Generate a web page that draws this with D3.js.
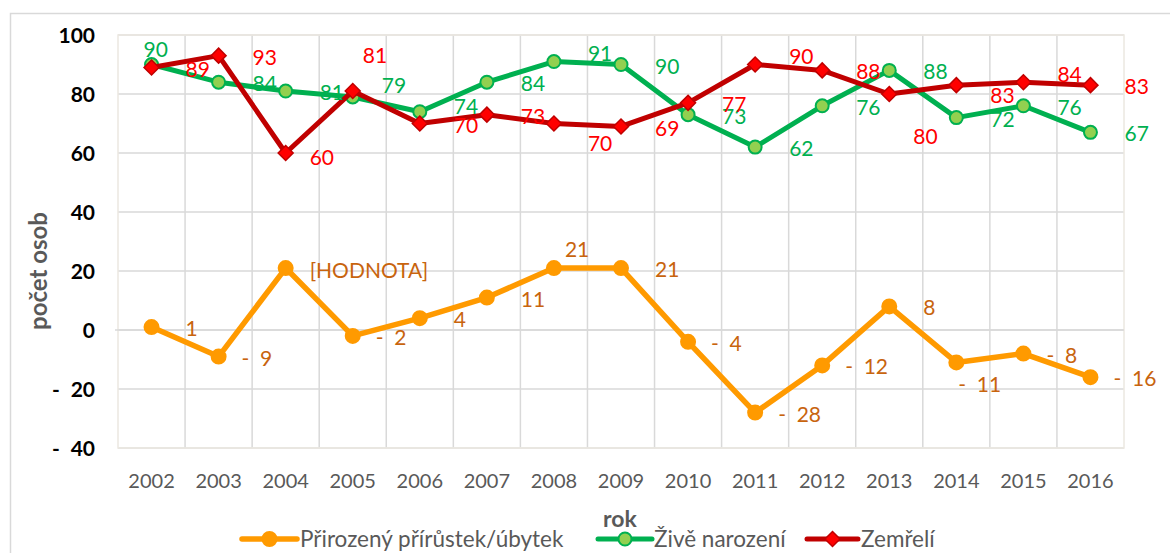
<!DOCTYPE html>
<html>
<head>
<meta charset="utf-8">
<script src="https://cdn.jsdelivr.net/npm/d3@7"></script>
<style>
  html, body { margin: 0; padding: 0; background: #ffffff; }
  svg { display: block; }
  text { font-family: Lato, "Liberation Sans", sans-serif; }
</style>
</head>
<body>
<svg id="chart" width="1170" height="553"></svg>
<script>
// ---------- data ----------
const years   = ["2002","2003","2004","2005","2006","2007","2008","2009","2010","2011","2012","2013","2014","2015","2016"];
const natural = [1, -9, 21, -2, 4, 11, 21, 21, -4, -28, -12, 8, -11, -8, -16];
const births  = [90, 84, 81, 79, 74, 84, 91, 90, 73, 62, 76, 88, 72, 76, 67];
const deaths  = [89, 93, 60, 81, 70, 73, 70, 69, 77, 90, 88, 80, 83, 84, 83];
const yTicks  = [-40, -20, 0, 20, 40, 60, 80, 100];
const seriesNames = ["Přirozený přírůstek/úbytek", "Živě narození", "Zemřelí"];
const xTitle = "rok";
const yTitle = "počet osob";
// label text shown instead of the number (as in the source chart)
const labelTextOverride = { natural: { "2004": "[HODNOTA]" } };

// ---------- label nudges (styling, px) ----------
const nudges = {
  natural: { "2004": [-10, 1], "2008": [-23, -20], "2014": [-21, 20] },
  births:  { "2002": [-42, -17], "2005": [-5, -13], "2006": [0, -7], "2008": [0, -10] },
  deaths:  { "2004": [-10, 3], "2005": [-24, -37], "2008": [0, 18], "2011": [0, -10],
             "2013": [-10, 41], "2014": [0, 9], "2015": [0, -9] }
};

const svg = d3.select("#chart");

const plot = { left: 118, right: 1124, top: 35, bottom: 448 };

const x = d3.scaleBand().domain(years).range([plot.left, plot.right]).paddingInner(0).paddingOuter(0);
const cx = d => x(d) + x.bandwidth() / 2;
const y = d3.scaleLinear().domain([-40, 100]).range([plot.bottom, plot.top]);

// outer chart border
svg.append("path")
  .attr("d", `M10.5,600 L10.5,13.5 L1180,13.5`)
  .attr("fill", "none").attr("stroke", "#d9d9d9").attr("stroke-width", 1.5);

// gridlines
const grid = svg.append("g");
grid.selectAll("line.h").data(yTicks).join("line")
  .attr("x1", plot.left).attr("x2", plot.right)
  .attr("y1", d => y(d)).attr("y2", d => y(d))
  .attr("stroke", "#d9d9d9").attr("stroke-width", 1.5);
grid.selectAll("line.v").data(years.slice(1)).join("line")
  .attr("x1", d => x(d)).attr("x2", d => x(d))
  .attr("y1", plot.top).attr("y2", plot.bottom)
  .attr("stroke", "#d9d9d9").attr("stroke-width", 1.5);

// plot area border
svg.append("rect")
  .attr("x", plot.left).attr("y", plot.top)
  .attr("width", plot.right - plot.left).attr("height", plot.bottom - plot.top)
  .attr("fill", "none").attr("stroke", "#ebe8e1").attr("stroke-width", 1.5);

// zero axis line
svg.append("line")
  .attr("x1", plot.left - 3).attr("x2", plot.right)
  .attr("y1", y(0)).attr("y2", y(0))
  .attr("stroke", "#d9d9d9").attr("stroke-width", 1.5);

// y axis labels (accounting format)
const yLab = svg.append("g").attr("font-weight", "bold").attr("font-size", 21).attr("fill", "#000");
yTicks.forEach(t => {
  yLab.append("text").attr("x", 95).attr("y", y(t)).attr("dy", "0.36em")
    .attr("text-anchor", "end").text(Math.abs(t));
  if (t < 0) {
    yLab.append("text").attr("x", 52).attr("y", y(t)).attr("dy", "0.36em")
      .attr("text-anchor", "start").text("-");
  }
});

// x axis labels
svg.append("g").selectAll("text").data(years).join("text")
  .attr("x", d => cx(d)).attr("y", 481).attr("dy", "0.36em")
  .attr("text-anchor", "middle").attr("font-size", 20).attr("fill", "#595959")
  .text(d => d);

// axis titles
svg.append("text").attr("x", 620).attr("y", 519).attr("dy", "0.36em")
  .attr("text-anchor", "middle").attr("font-size", 23).attr("font-weight", "bold")
  .attr("fill", "#595959").text(xTitle);
svg.append("text").attr("transform", "translate(38,271) rotate(-90)")
  .attr("dy", "0.36em").attr("text-anchor", "middle").attr("font-size", 24)
  .attr("font-weight", "bold").attr("fill", "#595959").text(yTitle);

// series definitions
const series = [
  { key: "natural", values: natural, line: "#ff9a00", width: 5.5, marker: "circle", fill: "#ff9a00", stroke: "#ff9a00", r: 7, label: "#c8640e" },
  { key: "births",  values: births,  line: "#00b050", width: 5,   marker: "circle", fill: "#92d050", stroke: "#00b050", r: 6.5, label: "#00b050" },
  { key: "deaths",  values: deaths,  line: "#c00000", width: 5,   marker: "diamond", fill: "#ff0000", stroke: "#c00000", r: 7.5, label: "#ff0000" }
];

const lineGen = d3.line().x(d => cx(d.year)).y(d => y(d.v));

function drawMarker(g, s, px, py) {
  if (s.marker === "circle") {
    g.append("circle").attr("cx", px).attr("cy", py).attr("r", s.r)
      .attr("fill", s.fill).attr("stroke", s.stroke).attr("stroke-width", 2);
  } else {
    const r = s.r;
    g.append("path").attr("d", `M${px},${py - r} L${px + r},${py} L${px},${py + r} L${px - r},${py} Z`)
      .attr("fill", s.fill).attr("stroke", s.stroke).attr("stroke-width", 1.5);
  }
}

series.forEach(s => {
  const pts = years.map((yr, i) => ({ year: yr, v: s.values[i] }));
  const g = svg.append("g");
  g.append("path").datum(pts).attr("d", lineGen)
    .attr("fill", "none").attr("stroke", s.line).attr("stroke-width", s.width)
    .attr("stroke-linejoin", "round");
  pts.forEach(p => drawMarker(g, s, cx(p.year), y(p.v)));
});

// data labels
series.forEach(s => {
  const g = svg.append("g").attr("font-size", 21).attr("fill", s.label);
  years.forEach((yr, i) => {
    const v = s.values[i];
    const n = (nudges[s.key] && nudges[s.key][yr]) || [0, 0];
    const px = cx(yr), py = y(v) + 1.5 + n[1];
    const override = labelTextOverride[s.key] && labelTextOverride[s.key][yr];
    if (override) {
      g.append("text").attr("x", px + 34 + n[0]).attr("y", py).attr("dy", "0.36em").text(override);
    } else if (v < 0) {
      g.append("text").attr("x", px + 23 + n[0]).attr("y", py).attr("dy", "0.36em").text("-");
      g.append("text").attr("x", px + 41.5 + n[0]).attr("y", py).attr("dy", "0.36em").text(Math.abs(v));
    } else {
      g.append("text").attr("x", px + 34 + n[0]).attr("y", py).attr("dy", "0.36em").text(v);
    }
  });
});

// legend
const legendItems = [
  { s: series[0], x0: 242, x1: 297, tx: 300 },
  { s: series[1], x0: 598, x1: 652, tx: 654 },
  { s: series[2], x0: 807, x1: 858, tx: 861 }
];
const lg = svg.append("g");
legendItems.forEach((it, i) => {
  const ly = 539;
  lg.append("line").attr("x1", it.x0).attr("x2", it.x1).attr("y1", ly).attr("y2", ly)
    .attr("stroke", it.s.line).attr("stroke-width", it.s.width).attr("stroke-linecap", "round");
  drawMarker(lg, it.s, (it.x0 + it.x1) / 2, ly);
  lg.append("text").attr("x", it.tx).attr("y", ly).attr("dy", "0.36em")
    .attr("font-size", 22.5).attr("fill", "#595959").text(seriesNames[i]);
});
</script>
</body>
</html>
